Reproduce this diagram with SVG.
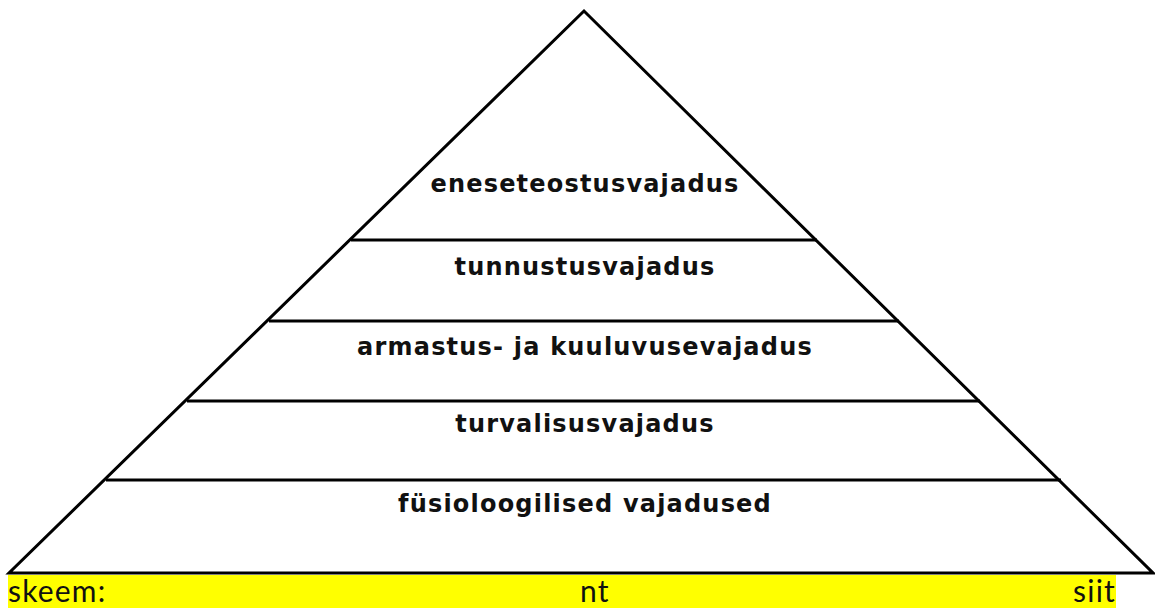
<svg xmlns="http://www.w3.org/2000/svg" width="1155" height="608" viewBox="0 0 1155 608">
<style>
.ln{stroke:#000;stroke-width:3;fill:none}
.lbl{font-family:"DejaVu Sans",sans-serif;font-weight:bold;font-size:24px;letter-spacing:1.2px;fill:#111;text-anchor:middle}
.cap{font-family:"Lato","Open Sans",sans-serif;font-size:30px;letter-spacing:1.2px;fill:#111}
</style>
<rect width="1155" height="608" fill="#fff"/>
<g id="pyramid">
<polygon class="ln" points="584,11 9,573 1153,573" stroke-linejoin="miter"/>
</g>
<g id="connectors">
<line class="ln" x1="351" y1="240" x2="817" y2="240"/>
<line class="ln" x1="269" y1="321" x2="899" y2="321"/>
<line class="ln" x1="187" y1="401" x2="980" y2="401"/>
<line class="ln" x1="106" y1="480" x2="1061" y2="480"/>
</g>
<g id="level5"><text class="lbl" x="585" y="192">eneseteostusvajadus</text></g>
<g id="level4"><text class="lbl" x="585" y="275">tunnustusvajadus</text></g>
<g id="level3"><text class="lbl" x="585" y="355">armastus- ja kuuluvusevajadus</text></g>
<g id="level2"><text class="lbl" x="585" y="432">turvalisusvajadus</text></g>
<g id="level1"><text class="lbl" x="585" y="512">füsioloogilised vajadused</text></g>
<g id="caption">
<rect x="8" y="575" width="1108" height="33" fill="#ffff00"/>
<text class="cap" x="8" y="602">skeem:</text>
<text class="cap" x="580" y="602">nt</text>
<text class="cap" x="1116" y="602" text-anchor="end">siit</text>
</g>
</svg>
